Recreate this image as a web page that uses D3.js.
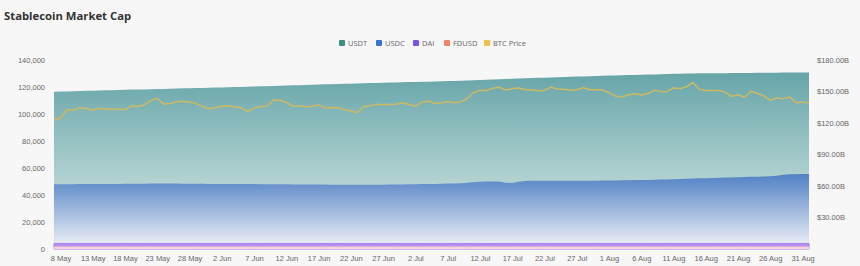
<!DOCTYPE html>
<html>
<head>
<meta charset="utf-8">
<script src="https://cdn.jsdelivr.net/npm/d3@7"></script>
<style>
  body { margin: 0; background: #f7f7f7; }
  svg { display: block; font-family: "Open Sans", sans-serif; }
  .axis text { fill: #666; font-size: 7.5px; }
  .legend text { fill: #666; font-size: 7.5px; }
</style>
</head>
<body>
<script>
var width = 860,
  height = 266;

// first and last day of the daily series (7 May - 1 Sep)
var startDay = "2025-05-07",
  endDay = "2025-09-01";

var seriesNames = ["USDT", "USDC", "DAI", "FDUSD", "BTC Price"];

// market caps, $B, one value per day
var usdt = [
  149.8, 149.9, 150.1, 150.3, 150.5, 150.6, 150.8,
  150.9, 151.1, 151.3, 151.4, 151.6, 151.8, 151.9,
  152.0, 152.2, 152.4, 152.5, 152.7, 152.8, 153.0,
  153.1, 153.3, 153.4, 153.6, 153.8, 153.9, 154.1,
  154.2, 154.4, 154.6, 154.7, 154.9, 155.1, 155.3,
  155.5, 155.7, 155.9, 156.0, 156.2, 156.4, 156.6,
  156.8, 157.0, 157.2, 157.3, 157.5, 157.7, 157.9,
  158.0, 158.2, 158.3, 158.5, 158.6, 158.8, 159.0,
  159.1, 159.3, 159.4, 159.6, 159.7, 159.9, 160.1,
  160.3, 160.5, 160.8, 161.0, 161.2, 161.4, 161.6,
  161.9, 162.1, 162.3, 162.6, 162.8, 163.0, 163.2,
  163.4, 163.6, 163.8, 164.0, 164.2, 164.4, 164.6,
  164.8, 165.0, 165.2, 165.3, 165.5, 165.6, 165.8,
  165.9, 166.1, 166.3, 166.5, 166.6, 166.8, 167.0,
  167.1, 167.2, 167.3, 167.4, 167.4, 167.5, 167.5,
  167.6, 167.6, 167.7, 167.7, 167.8, 167.8, 167.9,
  167.9, 168.0, 168.0, 168.1, 168.1, 168.2
];

var usdc = [
  61.6, 61.6, 61.7, 61.7, 61.8, 61.8, 61.8,
  61.9, 61.9, 62.0, 62.0, 62.1, 62.1, 62.2,
  62.2, 62.3, 62.4, 62.4, 62.3, 62.3, 62.2,
  62.2, 62.1, 62.1, 62.0, 62.0, 61.9, 61.9,
  61.9, 61.8, 61.8, 61.8, 61.7, 61.7, 61.6,
  61.6, 61.6, 61.5, 61.5, 61.5, 61.4, 61.4,
  61.4, 61.3, 61.3, 61.3, 61.2, 61.2, 61.2,
  61.2, 61.3, 61.3, 61.4, 61.5, 61.5, 61.6,
  61.7, 61.8, 61.9, 62.0, 62.1, 62.3, 62.5,
  62.7, 63.0, 63.5, 64.0, 64.2, 64.3, 64.3,
  63.2, 62.8, 64.0, 64.8, 65.0, 65.0, 65.1,
  65.1, 65.0, 65.0, 64.9, 64.9, 65.0, 65.0,
  65.1, 65.2, 65.2, 65.3, 65.4, 65.5, 65.6,
  65.7, 65.8, 65.9, 66.1, 66.3, 66.5, 66.7,
  66.9, 67.1, 67.3, 67.5, 67.7, 67.9, 68.1,
  68.2, 68.4, 68.6, 68.8, 68.9, 69.0, 69.2,
  69.8, 70.6, 71.1, 71.3, 71.4, 71.5
];

var dai = [
  5.3, 5.3, 5.3, 5.3, 5.3, 5.3, 5.3, 5.3, 5.3, 5.3, 5.3, 5.3, 5.3, 5.3,
  5.3, 5.3, 5.3, 5.3, 5.3, 5.3, 5.3, 5.3, 5.3, 5.3, 5.3, 5.3, 5.3, 5.3,
  5.3, 5.3, 5.3, 5.3, 5.3, 5.3, 5.3, 5.3, 5.3, 5.3, 5.3, 5.3, 5.3, 5.3,
  5.2, 5.2, 5.2, 5.2, 5.2, 5.2, 5.2, 5.2, 5.2, 5.2, 5.2, 5.2, 5.2, 5.2,
  5.2, 5.2, 5.2, 5.2, 5.2, 5.2, 5.2, 5.2, 5.2, 5.2, 5.2, 5.2, 5.2, 5.2,
  5.3, 5.3, 5.3, 5.3, 5.3, 5.3, 5.3, 5.3, 5.3, 5.3, 5.3, 5.3, 5.3, 5.3,
  5.3, 5.3, 5.3, 5.3, 5.3, 5.3, 5.3, 5.3, 5.3, 5.3, 5.3, 5.3, 5.3, 5.3,
  5.3, 5.3, 5.3, 5.3, 5.3, 5.3, 5.3, 5.3, 5.3, 5.3, 5.3, 5.3, 5.3, 5.3,
  5.3, 5.3, 5.3, 5.3, 5.3, 5.3
];

var fdusd = [
  2.3, 2.3, 2.3, 2.3, 2.3, 2.3, 2.3, 2.3, 2.3, 2.3, 2.3, 2.3, 2.3, 2.3,
  2.3, 2.3, 2.3, 2.3, 2.3, 2.3, 2.3, 2.3, 2.3, 2.3, 2.3, 2.3, 2.3, 2.3,
  2.3, 2.3, 2.3, 2.3, 2.3, 2.3, 2.3, 2.3, 2.3, 2.3, 2.3, 2.3, 2.3, 2.3,
  2.3, 2.3, 2.3, 2.3, 2.3, 2.3, 2.3, 2.3, 2.3, 2.3, 2.3, 2.3, 2.3, 2.3,
  2.3, 2.3, 2.3, 2.3, 2.3, 2.3, 2.3, 2.3, 2.3, 2.3, 2.3, 2.3, 2.3, 2.3,
  2.3, 2.3, 2.3, 2.3, 2.3, 2.3, 2.3, 2.3, 2.3, 2.3, 2.3, 2.3, 2.3, 2.3,
  2.3, 2.3, 2.3, 2.3, 2.3, 2.3, 2.3, 2.3, 2.3, 2.3, 2.3, 2.3, 2.3, 2.3,
  2.3, 2.3, 2.3, 2.3, 2.3, 2.3, 2.3, 2.3, 2.3, 2.3, 2.3, 2.3, 2.3, 2.3,
  2.3, 2.3, 2.3, 2.3, 2.3, 2.3
];

// BTC price, $ thousands
var btc = [
  96.0, 96.8, 103.2, 102.9, 104.6, 104.1, 102.8, 104.2, 103.5, 103.7,
  103.6, 103.2, 106.0, 105.6, 106.8, 109.7, 111.7, 107.3, 107.8, 109.0,
  109.4, 108.9, 107.8, 105.6, 103.9,
  104.6, 105.7, 105.9, 105.4, 104.7, 101.5, 104.3, 105.6, 105.7, 110.3,
  110.2, 108.7, 105.9, 106.0, 105.4, 105.6, 106.8, 104.6, 104.9, 104.6,
  103.3, 102.2, 100.9, 105.5, 106.0, 107.3, 106.9, 107.1, 107.3, 108.4,
  107.1, 105.7, 108.8, 109.6, 108.0, 108.2, 109.2, 108.3, 108.9, 111.3,
  115.9, 117.5, 117.4, 119.1, 119.8, 117.7, 118.7, 119.3, 117.9, 117.9,
  117.3, 117.4, 119.9, 118.5, 118.3, 117.6, 117.9, 119.4, 118.0, 117.9,
  117.8,
  115.7, 113.3, 112.5, 114.2, 115.0, 114.1, 115.0, 117.5, 116.7, 116.5,
  119.3, 118.7, 120.1, 123.3, 118.4, 117.4, 117.5, 117.4, 116.2, 112.9,
  114.3, 112.4, 116.9, 115.4, 113.5, 110.1, 111.8, 111.2, 112.6, 108.4,
  108.8,
  108.2
];

var xTickLabels = [
  "8 May", "13 May", "18 May", "23 May", "28 May", "2 Jun", "7 Jun",
  "12 Jun", "17 Jun", "22 Jun", "27 Jun", "2 Jul", "7 Jul", "12 Jul",
  "17 Jul", "22 Jul", "27 Jul", "1 Aug", "6 Aug", "11 Aug", "16 Aug",
  "21 Aug", "26 Aug", "31 Aug"
];
var leftTicks = [0, 20000, 40000, 60000, 80000, 100000, 120000, 140000];
var rightTicks = [30, 60, 90, 120, 150, 180];

var parseDay = d3.utcParse("%Y-%m-%d"),
  parseTick = d3.utcParse("%d %b %Y");

var days = d3.utcDay.range(parseDay(startDay), d3.utcDay.offset(parseDay(endDay), 1));
var tickDates = xTickLabels.map(function (t) { return parseTick(t + " 2025"); });

var svg = d3.select("body")
  .append("svg")
  .attr("width", width)
  .attr("height", height);

var defs = svg.append("defs");

//----------Scales----------
var xScale = d3.scaleUtc()
  .domain([days[0], days[days.length - 1]])
  .range([54, 809]);

var yLeft = d3.scaleLinear()
  .domain([0, 140000])
  .range([249, 60]);

var yRight = d3.scaleLinear()
  .domain([0, 180])
  .range([249, 60]);

//----------Gradients----------
function gradient(id, top, bottom, topValue) {
  var g = defs.append("linearGradient")
    .attr("id", id)
    .attr("gradientUnits", "userSpaceOnUse")
    .attr("x1", 0).attr("x2", 0)
    .attr("y1", yRight(topValue)).attr("y2", yRight(0));
  g.append("stop").attr("offset", 0).attr("stop-color", top);
  g.append("stop").attr("offset", 1).attr("stop-color", bottom);
}
gradient("gUsdt", "#66a5a9", "#e2eeea", 168);
gradient("gUsdc", "#4f80c4", "#f3f4f9", 72);

//----------Areas----------
function area(values) {
  return d3.area()
    .x(function (d, i) { return xScale(days[i]); })
    .y0(yRight(0))
    .y1(function (d) { return yRight(d); })(values);
}

svg.append("path")
  .attr("d", area(usdt))
  .attr("fill", "url(#gUsdt)");

svg.append("path")
  .attr("d", area(usdc))
  .attr("fill", "url(#gUsdc)");

svg.append("path")
  .attr("d", area(dai))
  .attr("fill", "#b690ef")
  .attr("stroke", "#a67ff0")
  .attr("stroke-width", 1);

svg.append("path")
  .attr("d", area(fdusd))
  .attr("fill", "#f6d3da");

//----------BTC line----------
var line = d3.line()
  .x(function (d, i) { return xScale(days[i]); })
  .y(function (d) { return yLeft(d * 1000); });

svg.append("path")
  .attr("d", line(btc))
  .attr("fill", "none")
  .attr("stroke", "#cdb964")
  .attr("stroke-width", 1.5)
  .attr("stroke-linejoin", "round");

//----------Axes----------
var xAxis = d3.axisBottom(xScale)
  .tickValues(tickDates)
  .tickFormat(function (d, i) { return xTickLabels[i]; })
  .tickSize(0)
  .tickPadding(7);

svg.append("g")
  .attr("class", "axis")
  .attr("transform", "translate(0,249)")
  .call(xAxis)
  .call(function (g) { g.select(".domain").remove(); });

var leftAxis = d3.axisLeft(yLeft)
  .tickValues(leftTicks)
  .tickFormat(d3.format(","))
  .tickSize(0)
  .tickPadding(7);

svg.append("g")
  .attr("class", "axis")
  .attr("transform", "translate(52,0)")
  .call(leftAxis)
  .call(function (g) { g.select(".domain").remove(); });

var rightAxis = d3.axisRight(yRight)
  .tickValues(rightTicks)
  .tickFormat(function (d) { return "$" + d + ".00B"; })
  .tickSize(0)
  .tickPadding(8);

svg.append("g")
  .attr("class", "axis")
  .attr("transform", "translate(809,0)")
  .call(rightAxis)
  .call(function (g) { g.select(".domain").remove(); });

//----------Legend----------
var legendColors = ["#3d8f80", "#3a72cf", "#7b52e6", "#ee8468", "#edc04c"];
var legendX = [342, 379, 416, 447, 487];

var legend = svg.append("g")
  .attr("class", "legend")
  .selectAll("g")
  .data(seriesNames)
  .enter()
  .append("g")
  .attr("transform", function (d, i) { return "translate(" + legendX[i] + ",43)"; });

legend.append("rect")
  .attr("x", -3).attr("y", -3)
  .attr("width", 6).attr("height", 6)
  .attr("rx", 1)
  .attr("fill", function (d, i) { return legendColors[i]; });

legend.append("text")
  .attr("x", 6)
  .attr("dy", "0.35em")
  .text(function (d) { return d; });

//----------Title----------
svg.append("text")
  .attr("x", 4)
  .attr("y", 19.5)
  .attr("fill", "#333")
  .style("font-size", "11.3px")
  .style("font-weight", 700)
  .text("Stablecoin Market Cap");
</script>
</body>
</html>
